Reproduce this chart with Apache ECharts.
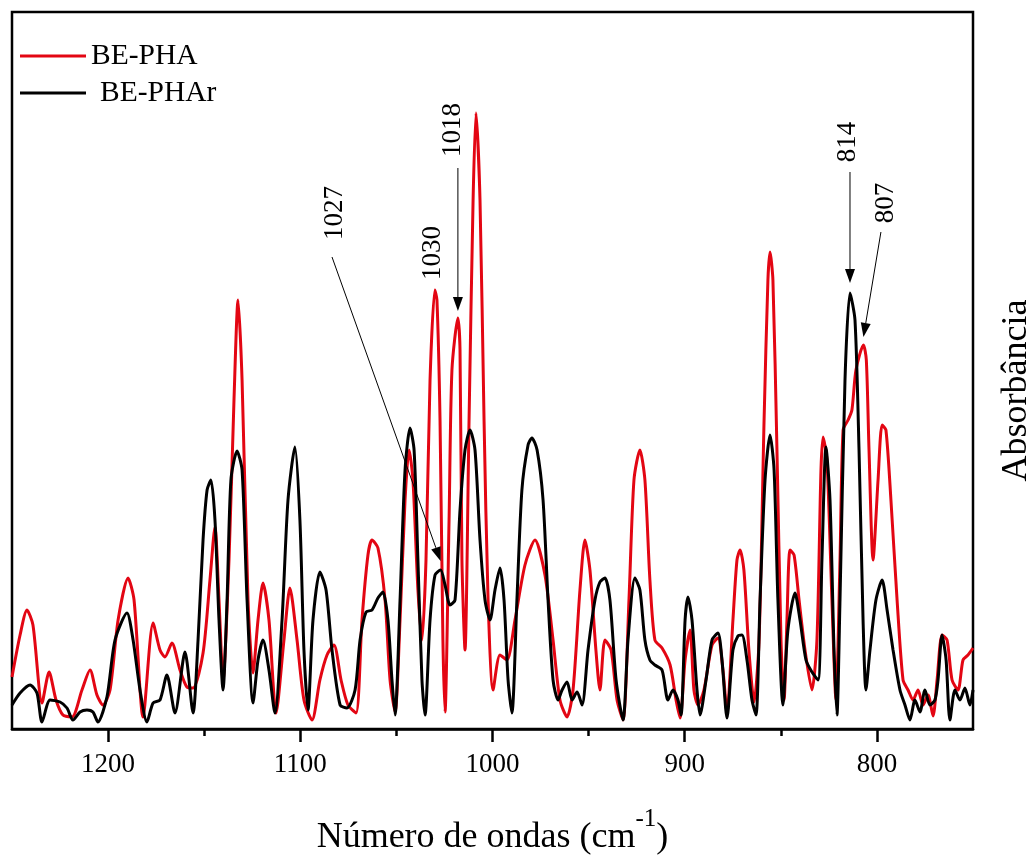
<!DOCTYPE html>
<html>
<head>
<meta charset="utf-8">
<script src="https://cdn.jsdelivr.net/npm/echarts@6/dist/echarts.min.js"></script>
<style>
  html, body { margin: 0; padding: 0; background: #ffffff; }
  #chart { width: 1032px; height: 857px; }
</style>
</head>
<body>
<div id="chart"></div>
<script>
// FTIR spectra, wavenumber (cm-1) vs absorbance (arbitrary units)
const phaWavenumber = [
  1250.0,1245.8,1242.2,1239.1,1234.4,1230.7,1227.1,1223.5,1218.8,1213.6,1209.4,1205.8,1202.7,1199.0,1194.8,1189.6,1186.5,1181.8,1176.6,1173.0,
  1170.4,1166.8,1162.6,1159.0,1155.8,1150.6,1147.0,1144.4,1142.3,1140.2,1137.1,1134.5,1132.4,1130.3,1127.2,1124.6,1122.0,1119.4,1116.3,1112.6,
  1108.5,1105.4,1101.7,1098.1,1093.9,1089.8,1086.1,1082.5,1078.8,1075.2,1071.0,1067.9,1064.8,1062.7,1059.6,1055.9,1053.3,1050.7,1048.1,1045.5,
  1043.4,1041.4,1038.8,1036.7,1034.6,1032.5,1030.0,1028.9,1027.3,1025.8,1024.7,1022.6,1021.1,1018.0,1016.9,1015.9,1014.3,1012.2,1010.1,1008.6,
  1006.5,1004.4,1002.3,999.7,996.1,992.5,988.3,983.1,977.9,972.7,968.5,964.9,961.2,958.1,954.5,951.9,949.3,946.2,944.1,941.5,
  938.3,935.2,932.1,929.0,926.4,923.3,920.7,918.1,915.5,911.8,907.6,904.5,902.4,899.8,897.2,895.2,893.1,890.0,885.8,882.7,
  880.1,878.0,874.9,872.8,871.2,869.2,866.6,863.9,861.3,858.7,856.7,855.6,854.1,852.0,849.9,848.3,846.8,845.2,843.1,840.5,
  837.4,833.8,831.2,829.1,828.0,826.0,823.4,821.3,819.2,817.6,815.0,813.0,810.9,807.0,805.5,804.1,802.0,799.4,797.3,795.3,
  792.7,789.5,786.4,783.8,781.2,778.6,776.0,773.4,770.8,768.7,766.1,763.5,760.9,757.8,755.2,752.6,750.0
];
const phaAbsorbance = [
  0.052,0.094,0.119,0.104,0.026,0.057,0.029,0.014,0.012,0.039,0.059,0.034,0.024,0.039,0.109,0.151,0.129,0.012,0.106,0.079,
  0.072,0.086,0.059,0.042,0.041,0.076,0.149,0.202,0.129,0.049,0.169,0.329,0.429,0.349,0.129,0.056,0.109,0.146,0.109,0.016,
  0.089,0.141,0.089,0.029,0.009,0.049,0.074,0.084,0.049,0.024,0.016,0.109,0.174,0.189,0.181,0.129,0.049,0.017,0.109,0.229,
  0.279,0.249,0.139,0.089,0.169,0.349,0.439,0.429,0.309,0.089,0.017,0.209,0.359,0.411,0.379,0.169,0.079,0.309,0.529,0.616,
  0.529,0.309,0.129,0.039,0.074,0.069,0.109,0.164,0.189,0.154,0.089,0.029,0.012,0.039,0.139,0.189,0.159,0.079,0.039,0.089,
  0.079,0.029,0.009,0.129,0.249,0.279,0.249,0.149,0.089,0.081,0.064,0.029,0.011,0.069,0.099,0.039,0.024,0.039,0.084,0.091,
  0.059,0.017,0.109,0.169,0.179,0.159,0.079,0.027,0.089,0.309,0.449,0.477,0.449,0.279,0.089,0.029,0.109,0.179,0.174,0.129,
  0.079,0.039,0.089,0.259,0.292,0.269,0.129,0.029,0.169,0.299,0.309,0.319,0.359,0.384,0.369,0.279,0.169,0.249,0.304,0.299,
  0.229,0.129,0.049,0.039,0.029,0.039,0.024,0.034,0.013,0.049,0.094,0.089,0.049,0.039,0.069,0.074,0.081
];
const pharWavenumber = [
  1250.0,1245.8,1240.6,1237.0,1234.4,1230.2,1225.0,1221.4,1218.3,1214.6,1211.0,1207.9,1205.3,1200.6,1196.4,1190.2,1187.0,1183.4,1179.8,1176.6,
  1173.0,1169.4,1165.2,1160.0,1155.8,1153.2,1150.6,1148.5,1146.5,1144.4,1142.3,1140.2,1138.1,1136.1,1132.9,1130.3,1127.7,1124.6,1122.0,1119.4,
  1116.3,1113.2,1109.5,1106.4,1102.8,1100.2,1098.1,1096.0,1093.4,1089.8,1086.6,1083.5,1079.3,1075.7,1071.5,1068.9,1065.8,1062.7,1059.6,1057.0,
  1054.4,1052.3,1050.7,1048.1,1045.5,1042.9,1040.8,1038.8,1036.7,1035.1,1032.5,1029.9,1027.0,1024.7,1022.1,1019.5,1016.9,1014.3,1011.7,1009.1,
  1006.5,1003.9,1001.3,998.7,996.1,994.0,991.9,989.9,987.3,984.7,981.5,979.5,976.8,973.7,971.1,968.5,965.9,963.8,961.2,958.6,
  956.0,953.4,950.3,946.7,944.1,941.5,938.9,935.7,932.1,929.5,925.9,923.3,920.7,918.1,915.5,911.8,908.7,906.1,903.5,901.9,
  899.8,898.3,896.2,893.6,892.0,888.9,885.8,882.7,880.6,878.0,874.9,872.3,870.2,867.6,865.0,862.9,860.8,858.2,855.6,853.5,
  851.5,848.9,846.3,842.6,840.0,836.9,833.8,830.6,828.6,826.5,824.4,822.3,820.8,819.2,816.6,814.0,811.4,809.3,807.2,805.7,
  803.6,800.5,797.3,794.7,791.6,788.0,785.4,782.8,780.2,777.6,775.0,772.4,769.8,768.2,766.1,764.0,762.0,759.4,756.8,754.2,
  751.6,750.0
];
const pharAbsorbance = [
  0.024,0.036,0.044,0.036,0.007,0.029,0.027,0.021,0.009,0.017,0.019,0.017,0.007,0.032,0.089,0.116,0.089,0.039,0.007,0.026,
  0.029,0.054,0.016,0.077,0.016,0.089,0.189,0.239,0.249,0.209,0.109,0.039,0.129,0.249,0.278,0.259,0.129,0.026,0.069,0.089,
  0.059,0.016,0.109,0.229,0.282,0.209,0.079,0.019,0.109,0.157,0.139,0.079,0.024,0.021,0.039,0.089,0.117,0.119,0.131,0.137,
  0.109,0.049,0.014,0.129,0.259,0.301,0.279,0.169,0.049,0.014,0.109,0.154,0.159,0.144,0.124,0.129,0.219,0.279,0.299,0.279,
  0.189,0.129,0.109,0.139,0.161,0.129,0.049,0.016,0.129,0.239,0.284,0.291,0.279,0.229,0.129,0.049,0.029,0.039,0.047,0.029,
  0.037,0.024,0.079,0.129,0.147,0.151,0.129,0.049,0.009,0.089,0.151,0.139,0.089,0.069,0.064,0.059,0.029,0.039,0.029,0.014,
  0.109,0.132,0.109,0.039,0.014,0.049,0.089,0.096,0.069,0.011,0.079,0.093,0.094,0.069,0.029,0.014,0.129,0.249,0.294,0.259,
  0.129,0.024,0.099,0.136,0.109,0.069,0.057,0.049,0.169,0.282,0.229,0.079,0.014,0.129,0.349,0.436,0.409,0.279,0.109,0.039,
  0.079,0.129,0.149,0.119,0.079,0.039,0.024,0.009,0.029,0.017,0.039,0.024,0.029,0.049,0.094,0.069,0.009,0.039,0.029,0.041,
  0.024,0.039
];

const seriesNames = ['BE-PHA', 'BE-PHAr'];
const majorTicks = [800, 900, 1000, 1100, 1200];
const minorTicks = [850, 950, 1050, 1150];
const axisTitleX = 'Número de ondas (cm';
const axisTitleXSup = '-1';
const axisTitleY = 'Absorbância';

// Band assignments marked on the spectra (wavenumbers in cm-1)
const bandLabels = ['1027', '1030', '1018', '814', '807'];

// Where each band label sits and where its arrow runs, in data coordinates
const bandLayout = [
  { at: [1082, 0.516], tail: [1083.5, 0.472], tip: [1027, 0.168] },
  { at: [1031, 0.476] },
  { at: [1020.5, 0.599], tail: [1018, 0.561], tip: [1018, 0.418] },
  { at: [815, 0.587], tail: [814, 0.557], tip: [814, 0.446] },
  { at: [795.3, 0.526], tail: [797.9, 0.497], tip: [807, 0.392] }
];

const SERIF = '"Liberation Serif", "Times New Roman", serif';
const RED = '#e30613';
const BLACK = '#000000';

const pairs = (xs, ys) => xs.map((x, i) => [x, ys[i]]);

const chart = echarts.init(document.getElementById('chart'), null, { renderer: 'canvas' });

chart.setOption({
  animation: false,
  backgroundColor: '#ffffff',
  grid: {
    left: 12, right: 59, top: 12, bottom: 128,
    outerBoundsMode: 'none',
    containLabel: false,
    show: true, borderColor: '#000', borderWidth: 2.5, backgroundColor: 'transparent'
  },
  legend: {
    orient: 'vertical',
    left: 20, top: 41,
    padding: 0,
    itemGap: 7,
    itemWidth: 66,
    itemHeight: 3,
    icon: 'rect',
    textStyle: { fontFamily: SERIF, fontSize: 29.5, color: '#000', lineHeight: 30 },
    data: [
      { name: seriesNames[0] },
      { name: seriesNames[1], textStyle: { padding: [0, 0, 0, 9] } }
    ]
  },
  xAxis: [
    {
      type: 'value', inverse: true, min: 750, max: 1250, position: 'bottom',
      name: '{a|' + axisTitleX + '}{b|' + axisTitleXSup + '}{a|)}',
      nameLocation: 'middle', nameGap: 78,
      nameTextStyle: {
        rich: {
          a: { fontFamily: SERIF, fontSize: 36, color: '#000', lineHeight: 62 },
          b: { fontFamily: SERIF, fontSize: 25, color: '#000', verticalAlign: 'top' }
        }
      },
      axisLine: { show: true, lineStyle: { color: '#000', width: 2.5 } },
      axisTick: { show: true, customValues: majorTicks, length: 13, lineStyle: { color: '#000', width: 2.5 } },
      axisLabel: {
        show: true, customValues: majorTicks, margin: 22,
        fontFamily: SERIF, fontSize: 27, color: '#000',
        formatter: (v) => String(v)
      },
      splitLine: { show: false }
    },
    {
      type: 'value', inverse: true, min: 750, max: 1250, position: 'bottom',
      axisLine: { show: false },
      axisTick: { show: true, customValues: minorTicks, length: 7, lineStyle: { color: '#000', width: 2.5 } },
      axisLabel: { show: false },
      splitLine: { show: false }
    }
  ],
  yAxis: {
    type: 'value', min: 0, max: 0.717, position: 'right',
    name: axisTitleY, nameLocation: 'middle', nameRotate: 90, nameGap: 26,
    nameTextStyle: { fontFamily: SERIF, fontSize: 36, color: '#000', padding: [0, 40, 0, 0] },
    axisLine: { show: false }, axisTick: { show: false }, axisLabel: { show: false },
    splitLine: { show: false }
  },
  series: [
    {
      name: seriesNames[0], type: 'line', xAxisIndex: 0,
      data: pairs(phaWavenumber, phaAbsorbance),
      symbol: 'none', smooth: 0.25,
      color: RED, lineStyle: { color: RED, width: 3 }
    },
    {
      name: seriesNames[1], type: 'line', xAxisIndex: 0,
      data: pairs(pharWavenumber, pharAbsorbance),
      symbol: 'none', smooth: 0.25,
      color: BLACK, lineStyle: { color: BLACK, width: 3 }
    }
  ]
});

// Band labels with their arrows, placed through the chart's own scales
function drawBandLabels() {
  const toPx = (p) => chart.convertToPixel({ seriesIndex: 0 }, p);
  const elements = [];
  bandLabels.forEach((text, i) => {
    const lay = bandLayout[i];
    const at = toPx(lay.at);
    elements.push({
      type: 'text', x: at[0], y: at[1], rotation: Math.PI / 2, z: 100,
      style: { text: text, fill: '#000', font: '27px ' + SERIF, align: 'center', verticalAlign: 'middle' }
    });
    if (lay.tail) {
      const a = toPx(lay.tail);
      const b = toPx(lay.tip);
      const dx = b[0] - a[0], dy = b[1] - a[1];
      const len = Math.sqrt(dx * dx + dy * dy);
      const ux = dx / len, uy = dy / len;
      const headLen = 14, headHalf = 5;
      const bx = b[0] - ux * headLen, by = b[1] - uy * headLen;
      elements.push({
        type: 'line', z: 100,
        shape: { x1: a[0], y1: a[1], x2: bx, y2: by },
        style: { stroke: '#000', lineWidth: 1 }
      });
      elements.push({
        type: 'polygon', z: 100,
        shape: { points: [[b[0], b[1]], [bx - uy * headHalf, by + ux * headHalf], [bx + uy * headHalf, by - ux * headHalf]] },
        style: { fill: '#000' }
      });
    }
  });
  chart.setOption({ graphic: { elements: elements } });
}
drawBandLabels();
</script>
</body>
</html>
